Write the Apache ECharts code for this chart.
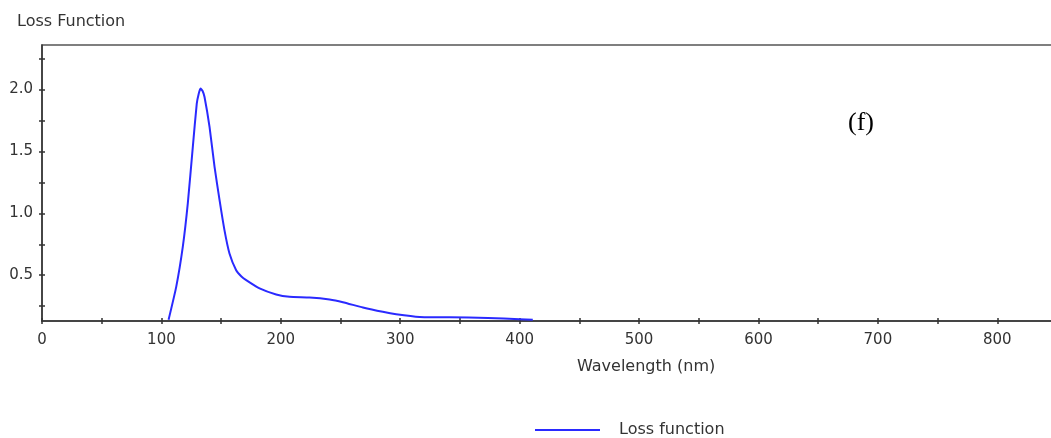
<!DOCTYPE html>
<html>
<head>
<meta charset="utf-8">
<script src="https://cdn.jsdelivr.net/npm/echarts@6/dist/echarts.min.js"></script>
<style>
  html, body { margin: 0; padding: 0; background: #fff; }
  #chart { width: 1051px; height: 438px; }
</style>
</head>
<body>
<div id="chart"></div>
<script>
// wavelength (nm) and loss function values
const wavelength = [106, 112.4, 117.9, 122.1, 126.3, 129.6, 131.2, 132.7, 134.4, 136.1, 140.3, 144.5, 148.7, 152.8, 157, 162.6, 167, 171, 182.2, 196.1, 207.3, 224, 240.8, 252, 268.7, 285.4, 296.6, 316.2, 341.3, 373.4, 400, 411];
const loss = [0.14, 0.406, 0.729, 1.08, 1.537, 1.887, 1.965, 2.008, 1.99, 1.94, 1.698, 1.375, 1.106, 0.864, 0.675, 0.54, 0.49, 0.46, 0.393, 0.344, 0.325, 0.32, 0.304, 0.282, 0.239, 0.204, 0.185, 0.163, 0.16, 0.155, 0.145, 0.14];

const xTicks = [0, 100, 200, 300, 400, 500, 600, 700, 800];
const yTicks = [0.25, 0.5, 0.75, 1.0, 1.25, 1.5, 1.75, 2.0, 2.25];
const yLabels = [0.5, 1.0, 1.5, 2.0];

const textColor = "#333";
const lineColor = "#333";

const chart = echarts.init(document.getElementById("chart"));

const xBase = {
  type: "value",
  min: 0,
  max: 850,
  interval: 50,
  splitLine: { show: false },
};
const yBase = {
  type: "value",
  min: 0.13,
  max: 2.36,
  splitLine: { show: false },
};

const option = {
  backgroundColor: "#fff",
  animation: false,
  title: {
    text: "Loss Function",
    left: 12,
    top: 9,
    textStyle: { fontFamily: "DejaVu Sans", fontSize: 16, fontWeight: "normal", color: textColor },
  },
  grid: {
    left: 42,
    right: -6,
    top: 45,
    bottom: 117,
    outerBoundsMode: "none",
    show: true,
    borderColor: "#555",
    borderWidth: 1.5,
  },
  legend: {
    left: 530,
    top: 417,
    icon: "rect",
    itemWidth: 65,
    itemHeight: 2,
    textStyle: { fontFamily: "DejaVu Sans", fontSize: 16, color: textColor, padding: [0, 0, 0, 14] },
    data: ["Loss function"],
  },
  xAxis: [
    Object.assign({}, xBase, {
      position: "bottom",
      axisLine: { show: true, lineStyle: { color: lineColor, width: 1.5 } },
      axisTick: { show: true, length: 3, lineStyle: { color: lineColor, width: 1.5 } },
      axisLabel: {
        margin: 12,
        fontFamily: "DejaVu Sans",
        fontSize: 15,
        color: textColor,
        formatter: (v) => (xTicks.indexOf(v) >= 0 ? String(v) : ""),
      },
    }),
    Object.assign({}, xBase, {
      position: "bottom",
      axisLine: { show: false },
      axisTick: { show: true, inside: true, length: 3, lineStyle: { color: lineColor, width: 1.5 } },
      axisLabel: { show: false },
    }),
  ],
  yAxis: [
    Object.assign({}, yBase, {
      position: "left",
      axisLine: { show: true, lineStyle: { color: lineColor, width: 1.5 } },
      axisTick: { show: true, length: 3, customValues: yTicks, lineStyle: { color: lineColor, width: 1.5 } },
      axisLabel: {
        margin: 9,
        fontFamily: "DejaVu Sans",
        fontSize: 15,
        color: textColor,
        customValues: yLabels,
        formatter: (v) => v.toFixed(1),
      },
    }),
    Object.assign({}, yBase, {
      position: "left",
      axisLine: { show: false },
      axisTick: { show: true, inside: true, length: 3, customValues: yTicks, lineStyle: { color: lineColor, width: 1.5 } },
      axisLabel: { show: false },
    }),
  ],
  graphic: [
    {
      type: "text",
      left: 577,
      top: 359,
      style: {
        text: "Wavelength (nm)",
        font: "16px 'DejaVu Sans'",
        fill: textColor,
      },
    },
    {
      type: "text",
      left: 848,
      top: 110,
      style: {
        text: "(f)",
        font: "26px 'Liberation Serif'",
        fill: "#000",
      },
    },
  ],
  series: [
    {
      name: "Loss function",
      type: "line",
      xAxisIndex: 0,
      yAxisIndex: 0,
      data: wavelength.map((w, i) => [w, loss[i]]),
      smooth: 0.15,
      showSymbol: false,
      lineStyle: { color: "#2a2aff", width: 2 },
      itemStyle: { color: "#2a2aff" },
    },
  ],
};

chart.setOption(option);
</script>
</body>
</html>
